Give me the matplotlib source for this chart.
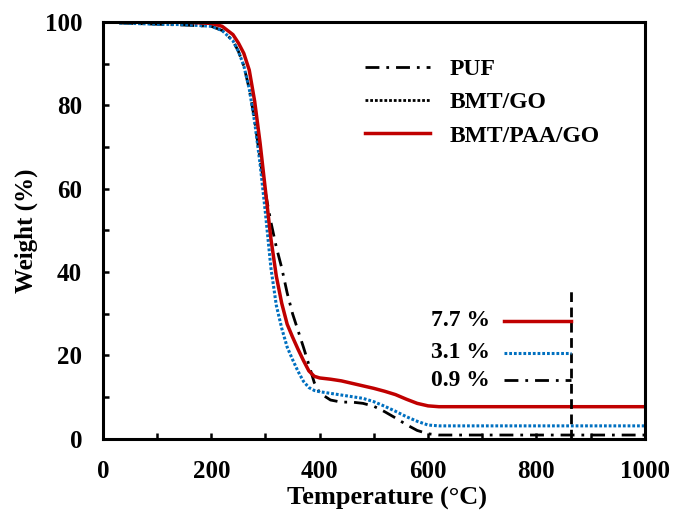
import matplotlib
matplotlib.use("Agg")
import matplotlib.pyplot as plt
from matplotlib.lines import Line2D

plt.rcParams['font.family'] = ['Liberation Serif', 'DejaVu Serif']
plt.rcParams['font.weight'] = 'bold'
plt.rcParams['lines.scale_dashes'] = False

# TGA data (temperature in C, weight in %)
temp = [30, 100, 150, 200, 220, 240, 250, 260, 270, 280, 290, 300, 310, 320,
        330, 340, 350, 360, 370, 380, 390, 400, 420, 440, 460, 480, 500, 520,
        540, 560, 580, 600, 620, 640, 660, 700, 800, 900, 1000]

w_puf = [99.8, 99.5, 99.3, 99.0, 98.0, 95.5, 93.0, 89.5, 84.0, 76.5, 67.0,
         59.0, 52.0, 46.0, 41.0, 35.0, 30.0, 26.0, 22.0, 17.8, 13.5, 11.0,
         9.3, 8.8, 8.8, 8.5, 7.8, 6.5, 5.0, 3.4, 2.0, 1.2, 0.9, 0.9, 0.9,
         0.9, 0.9, 0.9, 0.9]

w_bmt_go = [99.8, 99.5, 99.4, 99.0, 98.0, 95.5, 93.0, 89.5, 84.0, 76.0, 66.0,
            54.0, 41.0, 32.0, 26.5, 22.0, 19.0, 16.2, 13.8, 12.3, 11.6, 11.3,
            10.9, 10.5, 10.1, 9.7, 8.9, 7.8, 6.6, 5.3, 4.2, 3.3, 3.1, 3.1,
            3.1, 3.1, 3.1, 3.1, 3.1]

w_bmt_paa_go = [100.0, 100.0, 100.0, 99.7, 99.0, 97.0, 95.0, 92.5, 88.5,
                81.0, 71.0, 59.5, 48.0, 39.0, 32.5, 27.5, 24.4, 21.5, 18.8,
                16.3, 15.0, 14.6, 14.3, 13.9, 13.3, 12.7, 12.1, 11.4, 10.6,
                9.5, 8.5, 7.9, 7.7, 7.7, 7.7, 7.7, 7.7, 7.7, 7.7]

labels = ["PUF", "BMT/GO", "BMT/PAA/GO"]
residue_text = ["0.9 %", "3.1 %", "7.7 %"]
residue_y = [14.1, 20.6, 28.3]
marker_temp = 864
marker_top = 35.7
note_start = 740

red = "#C00000"
blue = "#0070C0"
dashdot = (0, (10, 5, 2, 5))
dotted = (0, (2, 1.4))

fig = plt.figure(figsize=(6.73, 5.15), dpi=100)
ax = fig.add_axes([0.153, 0.148, 0.805, 0.809])

ax.plot(temp, w_puf, color="black", lw=2, linestyle=dashdot)
ax.plot(temp, w_bmt_go, color=blue, lw=2.2, linestyle=dotted)
ax.plot(temp, w_bmt_paa_go, color=red, lw=2.5)

# residue markers
ax.plot([marker_temp, marker_temp], [0, marker_top], color="black", lw=2,
        linestyle=(0, (7, 4)))
styles = [("black", dashdot, 2), (blue, dotted, 2.2), (red, "-", 2.5)]
for (c, ls, lw), y, txt in zip(styles, residue_y, residue_text):
    ax.plot([note_start, marker_temp], [y, y], color=c, lw=lw, linestyle=ls)
    ax.text(note_start - 25, y, txt, ha="right", va="center", fontsize=17,
            fontweight="bold")

handles = [Line2D([], [], color="black", lw=2, linestyle=dashdot),
           Line2D([], [], color="black", lw=2, linestyle=dotted),
           Line2D([], [], color=red, lw=2.5)]
ax.legend(handles, labels, loc="upper left", bbox_to_anchor=(0.483, 0.913),
          frameon=False, fontsize=17, handlelength=2.75, handletextpad=0.85,
          labelspacing=0.5, borderpad=0, borderaxespad=0)

ax.set_xlim(0, 1000)
ax.set_ylim(0, 100)
ax.set_xticks(range(0, 1001, 100))
ax.set_xticklabels([str(v) if v % 200 == 0 else "" for v in range(0, 1001, 100)])
ax.set_yticks(range(0, 101, 10))
ax.set_yticklabels([str(v) if v % 20 == 0 else "" for v in range(0, 101, 10)])
ax.tick_params(direction="in", length=4, width=1.8, labelsize=18, pad=15)
for s in ax.spines.values():
    s.set_linewidth(2.2)

ax.set_xlabel("Temperature (°C)", fontsize=19, fontweight="bold", labelpad=3)
ax.xaxis.set_label_coords(0.524, -0.115)
ax.set_ylabel("Weight (%)", fontsize=18, fontweight="bold", labelpad=5)

fig.savefig("out.png", dpi=100)
